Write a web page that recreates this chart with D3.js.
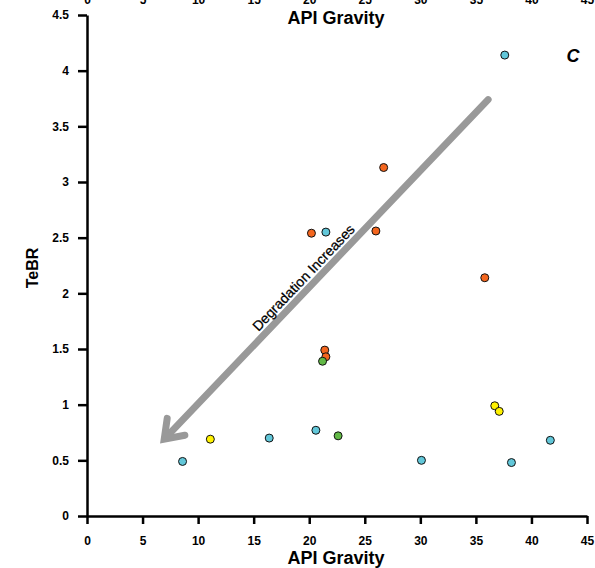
<!DOCTYPE html>
<html>
<head>
<meta charset="utf-8">
<script src="https://cdn.jsdelivr.net/npm/d3@7"></script>
<style>
  html, body { margin: 0; padding: 0; background: #fff; }
  svg { display: block; font-family: "Liberation Sans", Arial, sans-serif; }
</style>
</head>
<body>
<svg id="chart" width="595" height="568"></svg>
<script>
// ---- data ----
const xTicks = [0, 5, 10, 15, 20, 25, 30, 35, 40, 45];
const yTicks = [0, 0.5, 1, 1.5, 2, 2.5, 3, 3.5, 4, 4.5];
const yTickLabels = ["0", "0.5", "1", "1.5", "2", "2.5", "3", "3.5", "4", "4.5"];

const orangeX = [26.7, 20.2, 26.0, 35.8, 21.4, 21.5];
const orangeY = [3.13, 2.54, 2.56, 2.14, 1.49, 1.43];
const cyanX = [37.6, 21.5, 8.6, 16.4, 20.6, 30.1, 38.2, 41.7];
const cyanY = [4.14, 2.55, 0.49, 0.70, 0.77, 0.50, 0.48, 0.68];
const yellowX = [11.1, 36.7, 37.1];
const yellowY = [0.69, 0.99, 0.94];
const greenX = [21.2, 22.6];
const greenY = [1.39, 0.72];

const seriesNames = ["orange", "cyan", "yellow", "green"];
const seriesColors = ["#F4661E", "#62C7D9", "#FFF200", "#62B946"];

const arrowFrom = [36.1, 3.74];
const arrowTo = [6.95, 0.69];
const arrowLabel = "Degradation Increases";
const panelLabel = "C";
const xTitle = "API Gravity";
const yTitle = "TeBR";

// ---- layout ----
const svg = d3.select("#chart");
const x = d3.scaleLinear().domain([0, 45]).range([87, 587]);
const y = d3.scaleLinear().domain([0, 4.5]).range([516, 15]);

const tickFont = "bold 12px 'Liberation Sans', Arial, sans-serif";
const titleFont = "bold 18px 'Liberation Sans', Arial, sans-serif";

// partial axis of panel above (cut off at top edge)
const topAxis = svg.append("g").attr("transform", "translate(0,-5)")
  .call(d3.axisBottom(x).tickValues(xTicks).tickSize(0).tickPadding(0));
topAxis.select(".domain").remove();
topAxis.selectAll("text").style("font", tickFont).attr("fill", "#000");
svg.append("text").attr("x", 336).attr("y", 24).attr("text-anchor", "middle")
  .style("font", titleFont).text(xTitle);

// x axis
const gx = svg.append("g").attr("transform", `translate(0,${y(0)})`)
  .call(d3.axisBottom(x).tickValues(xTicks).tickSize(8).tickPadding(12).tickSizeOuter(0));
// y axis
const gy = svg.append("g").attr("transform", `translate(${x(0)},0)`)
  .call(d3.axisLeft(y).tickValues(yTicks).tickFormat((d, i) => yTickLabels[i]).tickSize(9).tickPadding(9).tickSizeOuter(0));

[gx, gy].forEach(g => {
  g.select(".domain").attr("stroke", "#000").attr("stroke-width", 2.5);
  g.selectAll(".tick line").attr("stroke", "#000").attr("stroke-width", 2.5);
  g.selectAll("text").style("font", tickFont).attr("fill", "#000");
});

svg.append("text").attr("x", 336).attr("y", 564).attr("text-anchor", "middle")
  .style("font", titleFont).text(xTitle);
svg.append("text").attr("transform", "translate(38,268) rotate(-90)").attr("text-anchor", "middle")
  .style("font", "bold 16px 'Liberation Sans', Arial, sans-serif").text(yTitle);

// arrow
const ax1 = x(arrowFrom[0]), ay1 = y(arrowFrom[1]);
const ax2 = x(arrowTo[0]), ay2 = y(arrowTo[1]);
const ang = Math.atan2(ay2 - ay1, ax2 - ax1);
const headLen = 21, headSpread = 0.62;
const shaftEnd = [ax2 - Math.cos(ang) * 6, ay2 - Math.sin(ang) * 6];
svg.append("line").attr("x1", ax1).attr("y1", ay1).attr("x2", shaftEnd[0]).attr("y2", shaftEnd[1])
  .attr("stroke", "#999").attr("stroke-width", 7).attr("stroke-linecap", "round");
const p1 = [ax2 - Math.cos(ang - headSpread) * headLen, ay2 - Math.sin(ang - headSpread) * headLen];
const p2 = [ax2 - Math.cos(ang + headSpread) * headLen, ay2 - Math.sin(ang + headSpread) * headLen];
svg.append("path").attr("d", `M${p1[0]},${p1[1]}L${ax2},${ay2}L${p2[0]},${p2[1]}`)
  .attr("fill", "none").attr("stroke", "#999").attr("stroke-width", 7)
  .attr("stroke-linejoin", "miter").attr("stroke-linecap", "round");

// arrow label
const angDeg = Math.atan2(ay1 - ay2, ax1 - ax2) * 180 / Math.PI;
const lx = x(19.8), ly = y(2.11);
svg.append("text")
  .attr("transform", `translate(${lx},${ly}) rotate(${angDeg})`)
  .attr("text-anchor", "middle")
  .style("font", "14px 'Liberation Sans', Arial, sans-serif").attr("fill", "#000")
  .attr("stroke", "#000").attr("stroke-width", 0.25).text(arrowLabel);

// points
const seriesX = [orangeX, cyanX, yellowX, greenX];
const seriesY = [orangeY, cyanY, yellowY, greenY];
seriesNames.forEach((name, si) => {
  const pts = seriesX[si].map((v, i) => ({ x: v, y: seriesY[si][i] }));
  svg.append("g").attr("class", name).selectAll("circle").data(pts).join("circle")
    .attr("cx", d => x(d.x)).attr("cy", d => y(d.y)).attr("r", 4)
    .attr("fill", seriesColors[si]).attr("stroke", "#111").attr("stroke-width", 1);
});

// panel label
svg.append("text").attr("x", 573).attr("y", 62).attr("text-anchor", "middle")
  .style("font", "italic bold 18px 'Liberation Sans', Arial, sans-serif").text(panelLabel);
</script>
</body>
</html>
